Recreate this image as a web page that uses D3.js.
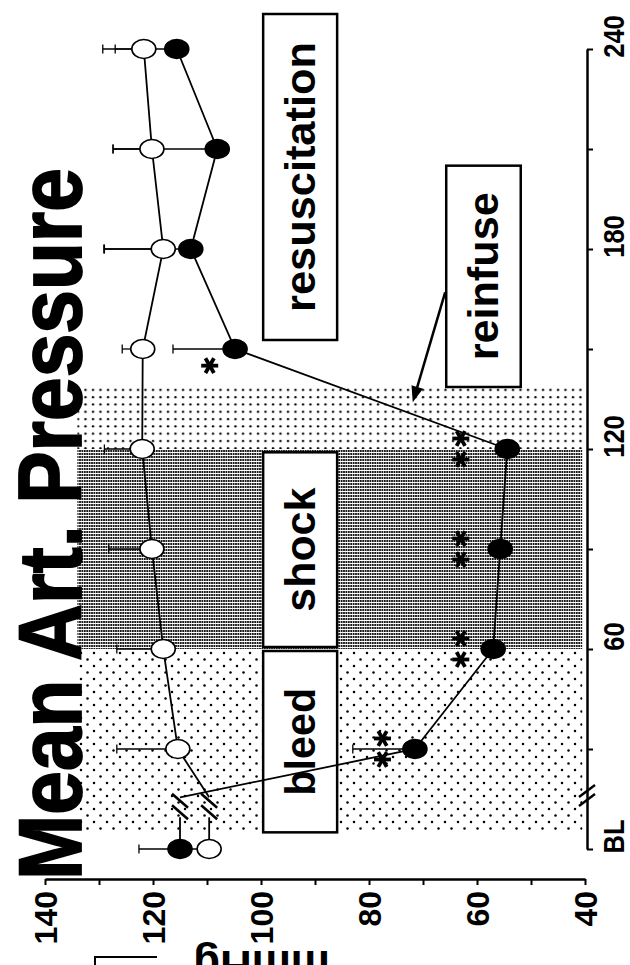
<!DOCTYPE html>
<html>
<head>
<meta charset="utf-8">
<script src="https://cdn.jsdelivr.net/npm/d3@7"></script>
<style>
  body { margin: 0; background: #fff; }
  svg { display: block; font-family: "Liberation Sans", Arial, Helvetica, sans-serif; font-weight: bold; }
</style>
</head>
<body>
<svg id="chart" width="630" height="965"></svg>
<script>
// values: mean arterial pressure, mmHg (mean and SE)
var times = [0, 30, 60, 90, 120, 150, 180, 210, 240];
var controlMean = [109.6, 115.4, 118.1, 120.2, 122.0, 121.9, 118.1, 120.2, 121.7];
var controlSE   = [6, 11.3, 8.6, 8, 7, 3.8, 11, 7.2, 5.3];
var shockMean   = [115.0, 71.5, 57.0, 55.7, 54.4, 104.8, 113.0, 108.1, 115.6];
var shockSE     = [7.6, 11.5, 1.5, 1.5, 1.5, 11.5, 16, 19.3, 13.7];

// significance marks on the shock group
var sigTimes  = [30, 60, 90, 120, 145];
var sigCounts = [2, 2, 2, 2, 1];
var sigAt     = [77.5, 63, 63, 63, 109.5];

// axes
var timeTicks = [0, 30, 60, 90, 120, 150, 180, 210, 240];
var timeLabels = ['BL', '', '60', '', '120', '', '180', '', '240'];
var mmhgTicks = [140, 130, 120, 110, 100, 90, 80, 70, 60, 50, 40];
var mmhgLabels = ['140', '', '120', '', '100', '', '80', '', '60', '', '40'];

// experimental phases (minutes)
var phaseStart = [5, 60, 120];
var phaseEnd   = [60, 120, 138.5];
var phaseFill  = ['dotsLow', 'dark', 'dotsHigh'];

var svg = d3.select('#chart');

// the figure is printed turned a quarter turn: time runs up the page, pressure runs across
var y = d3.scaleLinear().domain([0, 240]).range([849, 49]);
var x = d3.scaleLinear().domain([140, 40]).range([45, 585]);

var defs = svg.append('defs');
var p1 = defs.append('pattern').attr('id', 'dotsLow').attr('patternUnits', 'userSpaceOnUse')
  .attr('width', 13).attr('height', 13);
p1.append('circle').attr('cx', 3).attr('cy', 3).attr('r', 1.25).attr('fill', '#000');
p1.append('circle').attr('cx', 9.5).attr('cy', 9.5).attr('r', 1.25).attr('fill', '#000');
var p2 = defs.append('pattern').attr('id', 'dotsHigh').attr('patternUnits', 'userSpaceOnUse')
  .attr('width', 7.5).attr('height', 7.3);
p2.append('circle').attr('cx', 3).attr('cy', 3).attr('r', 1.2).attr('fill', '#000');
var p3 = defs.append('pattern').attr('id', 'dark').attr('patternUnits', 'userSpaceOnUse')
  .attr('width', 2.4).attr('height', 3);
p3.append('rect').attr('width', 1.8).attr('height', 2).attr('fill', '#1a1a1a');

// shaded phases
svg.append('g').selectAll('rect')
  .data(phaseStart).enter().append('rect')
  .attr('x', x(134))
  .attr('width', x(40.5) - x(134))
  .attr('y', function(d, i) { return y(phaseEnd[i]); })
  .attr('height', function(d, i) { return y(d) - y(phaseEnd[i]); })
  .attr('fill', function(d, i) { return 'url(#' + phaseFill[i] + ')'; });

// labelled boxes
var boxes = [
  {text: 'bleed', t0: 5, t1: 59.4, v0: 99.6, v1: 85.9, len: 108},
  {text: 'shock', t0: 60.6, t1: 119, v0: 99.6, v1: 85.9, len: 124},
  {text: 'resuscitation', t0: 152.7, t1: 250.5, v0: 99.6, v1: 85.9, len: 270},
  {text: 'reinfuse', t0: 138.6, t1: 205, v0: 65.7, v1: 51.9, len: 168}
];
var box = svg.append('g').selectAll('g').data(boxes).enter().append('g');
box.append('rect')
  .attr('x', function(d) { return x(d.v0); })
  .attr('y', function(d) { return y(d.t1); })
  .attr('width', function(d) { return x(d.v1) - x(d.v0); })
  .attr('height', function(d) { return y(d.t0) - y(d.t1); })
  .attr('fill', '#fff').attr('stroke', '#000').attr('stroke-width', 2.5);
box.append('text')
  .attr('transform', function(d) {
    var cx = (x(d.v0) + x(d.v1)) / 2 + 15, cy = (y(d.t0) + y(d.t1)) / 2;
    return 'translate(' + cx + ',' + cy + ') rotate(-90)';
  })
  .attr('text-anchor', 'middle')
  .attr('font-size', 42)
  .attr('textLength', function(d) { return d.len; })
  .attr('lengthAdjust', 'spacingAndGlyphs')
  .text(function(d) { return d.text; });

// arrow from "reinfuse" to the reinfusion period
var a0 = [x(65.9), y(167)], a1 = [x(71.9), y(134)];
var ang = Math.atan2(a1[1] - a0[1], a1[0] - a0[0]);
svg.append('line')
  .attr('x1', a0[0]).attr('y1', a0[1])
  .attr('x2', a1[0] - 12 * Math.cos(ang)).attr('y2', a1[1] - 12 * Math.sin(ang))
  .attr('stroke', '#000').attr('stroke-width', 2.5);
svg.append('path')
  .attr('d', 'M0,0 L-16,-6 L-16,6 Z')
  .attr('transform', 'translate(' + a1[0] + ',' + a1[1] + ') rotate(' + (ang * 180 / Math.PI) + ')')
  .attr('fill', '#000');

// series lines, with the broken segment between BL and 30 min
var series = [
  {mean: controlMean, se: controlSE, fill: '#fff'},
  {mean: shockMean, se: shockSE, fill: '#000'}
];
var line = d3.line()
  .x(function(d) { return x(d[1]); })
  .y(function(d) { return y(d[0]); });

series.forEach(function(s) {
  var pts = times.map(function(t, i) { return [t, s.mean[i]]; });
  var g = svg.append('g').attr('fill', 'none').attr('stroke', '#000');
  g.append('path').attr('stroke-width', 1.8)
    .attr('d', line([[0, s.mean[0]], [9.5, s.mean[0]]]));
  g.append('path').attr('stroke-width', 1.8)
    .attr('d', line([[15.5, s.mean[0]]].concat(pts.slice(1))));
  [11, 14.5].forEach(function(tb) {
    var bx = x(s.mean[0]), by = y(tb);
    g.append('line').attr('stroke-width', 2.6)
      .attr('x1', bx - 8).attr('y1', by - 7).attr('x2', bx + 8).attr('y2', by + 7);
  });
});

// error bars (toward higher pressure)
series.slice().reverse().forEach(function(s) {
  var g = svg.append('g').attr('stroke', '#000').attr('stroke-width', 1.3);
  times.forEach(function(t, i) {
    var xe = x(s.mean[i] + s.se[i]);
    g.append('line').attr('x1', x(s.mean[i])).attr('x2', xe).attr('y1', y(t)).attr('y2', y(t));
    g.append('line').attr('x1', xe).attr('x2', xe).attr('y1', y(t) - 4.5).attr('y2', y(t) + 4.5);
  });
});

// points
series.slice().reverse().forEach(function(s) {
  svg.append('g').selectAll('ellipse')
    .data(times).enter().append('ellipse')
    .attr('cx', function(d, i) { return x(s.mean[i]); })
    .attr('cy', function(d) { return y(d); })
    .attr('rx', 12).attr('ry', 9.5)
    .attr('fill', s.fill).attr('stroke', '#000').attr('stroke-width', 1.6);
});

// asterisks
function star(g, cx, cy) {
  [0, 60, 120].forEach(function(a) {
    var r = a * Math.PI / 180;
    g.append('line')
      .attr('x1', cx - 8.5 * Math.cos(r)).attr('y1', cy - 8.5 * Math.sin(r))
      .attr('x2', cx + 8.5 * Math.cos(r)).attr('y2', cy + 8.5 * Math.sin(r));
  });
}
var sg = svg.append('g').attr('stroke', '#000').attr('stroke-width', 3.8);
sigTimes.forEach(function(t, i) {
  if (sigCounts[i] === 2) {
    star(sg, x(sigAt[i]), y(t) - 10.5);
    star(sg, x(sigAt[i]), y(t) + 10.5);
  } else {
    star(sg, x(sigAt[i]), y(t));
  }
});

// pressure axis (bottom)
var ax = svg.append('g').attr('transform', 'translate(0,879)')
  .call(d3.axisBottom(x).tickValues(mmhgTicks).tickSize(6).tickSizeOuter(0)
    .tickFormat(function(d, i) { return mmhgLabels[i]; }));
ax.select('.domain').attr('stroke-width', 2.5);
ax.selectAll('.tick line').attr('stroke-width', 2);
ax.selectAll('.tick text')
  .attr('y', 0).attr('dy', 0)
  .attr('font-size', 32).attr('font-weight', 'bold')
  .attr('font-family', '"Liberation Sans", Arial, sans-serif')
  .attr('text-anchor', 'end')
  .attr('transform', 'translate(11.5,12) rotate(-90)');

// time axis (right)
var at = svg.append('g').attr('transform', 'translate(587,0)')
  .call(d3.axisRight(y).tickValues(timeTicks).tickSize(6).tickSizeOuter(0)
    .tickFormat(function(d, i) { return timeLabels[i]; }));
at.select('.domain').attr('stroke-width', 2.5);
at.selectAll('.tick line').attr('stroke-width', 2);
at.selectAll('.tick text')
  .attr('x', 0).attr('dy', 0)
  .attr('font-size', 30).attr('font-weight', 'bold')
  .attr('font-family', '"Liberation Sans", Arial, sans-serif')
  .attr('text-anchor', 'middle')
  .attr('transform', 'translate(37,-13) rotate(-90) scale(0.85,1)');
// axis break
[791, 800].forEach(function(by) {
  at.append('line').attr('stroke', '#000').attr('stroke-width', 2.4)
    .attr('x1', -8).attr('y1', by + 6).attr('x2', 8).attr('y2', by - 6);
});

// title and units
svg.append('text')
  .attr('transform', 'translate(81,880) rotate(-90)')
  .attr('font-size', 89)
  .attr('textLength', 712)
  .attr('lengthAdjust', 'spacingAndGlyphs')
  .attr('stroke', '#000').attr('stroke-width', 1.8)
  .text('Mean Art. Pressure');
svg.append('text')
  .attr('transform', 'translate(330,951) rotate(180)')
  .attr('font-size', 44)
  .text('mmHg');
svg.append('path')
  .attr('d', 'M95,965V957H157')
  .attr('fill', 'none').attr('stroke', '#000').attr('stroke-width', 2);
</script>
</body>
</html>
